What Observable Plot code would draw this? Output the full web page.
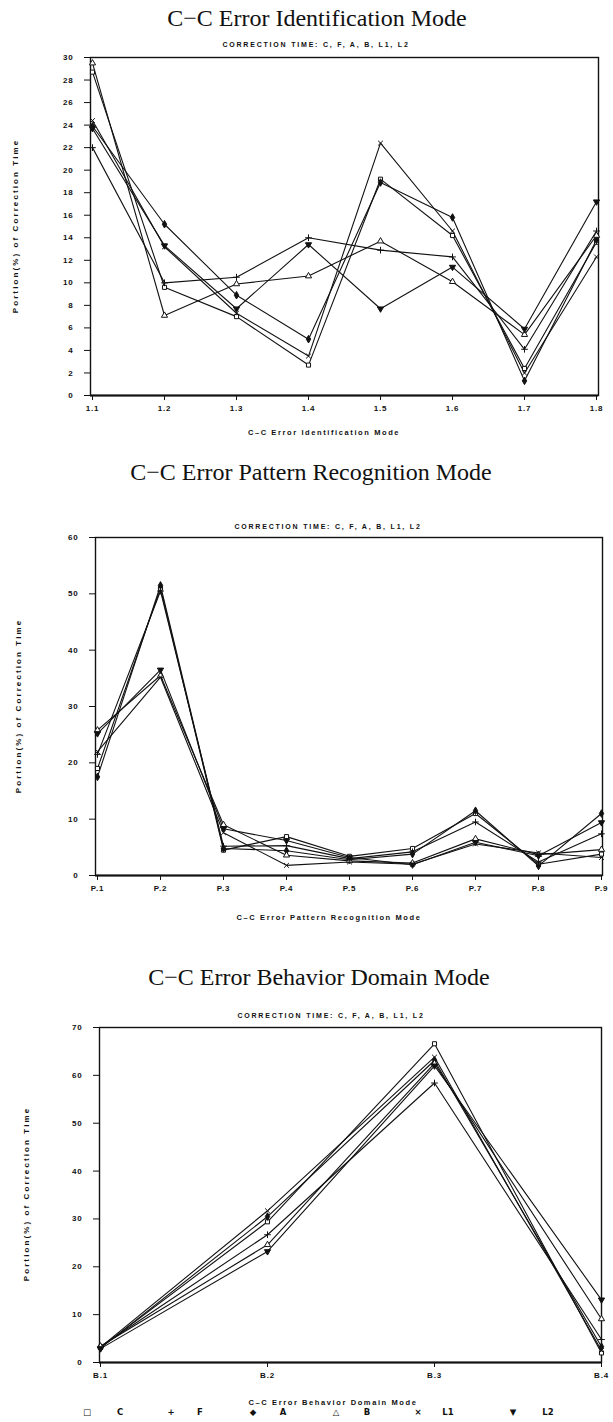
<!DOCTYPE html>
<html><head><meta charset="utf-8">
<script src="https://cdn.jsdelivr.net/npm/d3@7"></script>
<script src="https://cdn.jsdelivr.net/npm/@observablehq/plot@0.6"></script>
<style>
body{margin:0;background:#fff;}
#page{position:relative;width:613px;height:1422px;overflow:hidden;background:#fff;color:#111;}
.title{position:absolute;font-family:"Liberation Serif",serif;font-size:24px;line-height:24px;white-space:nowrap;transform:translate(-50%,-50%);}
.sub{position:absolute;font-family:"Liberation Sans",sans-serif;font-weight:bold;font-size:7px;letter-spacing:1.8px;white-space:nowrap;transform:translate(-50%,-50%);}
.axt{position:absolute;font-family:"Liberation Sans",sans-serif;font-weight:bold;font-size:7.5px;letter-spacing:1.6px;white-space:nowrap;transform:translate(-50%,-50%);}
.ylab{position:absolute;font-family:"Liberation Sans",sans-serif;font-weight:bold;font-size:8px;letter-spacing:2.1px;white-space:nowrap;transform:translate(-50%,-50%) rotate(-90deg);}
.plot{position:absolute;left:0;}
.leg{position:absolute;font-family:"DejaVu Sans",sans-serif;font-weight:bold;font-size:8.5px;white-space:nowrap;transform:translate(-50%,-50%);z-index:5;}
</style></head><body><div id="page"></div>
<script>
const seriesNames = ["C","F","A","B","L1","L2"];

// Chart 1: C-C Error Identification Mode
const idCats = ["1.1","1.2","1.3","1.4","1.5","1.6","1.7","1.8"];
const idC  = [28.7, 9.6, 7.0, 2.7, 19.2, 14.2, 2.4, 13.6];
const idF  = [22.0, 10.0, 10.5, 14.0, 12.9, 12.3, 4.1, 14.6];
const idA  = [23.9, 15.2, 8.9, 5.0, 18.9, 15.8, 1.3, 13.8];
const idB  = [29.5, 7.1, 9.9, 10.6, 13.7, 10.1, 5.4, 14.2];
const idL1 = [24.4, 13.2, 7.3, 3.5, 22.4, 14.6, 2.0, 12.3];
const idL2 = [23.7, 13.3, 7.7, 13.4, 7.7, 11.4, 5.9, 17.2];

// Chart 2: C-C Error Pattern Recognition Mode
const prCats = ["P.1","P.2","P.3","P.4","P.5","P.6","P.7","P.8","P.9"];
const prC  = [19.0, 51.0, 4.5, 6.9, 3.4, 4.8, 11.0, 2.0, 3.8];
const prF  = [21.5, 50.5, 5.2, 5.3, 3.0, 4.2, 9.5, 2.4, 7.4];
const prA  = [17.5, 51.5, 4.8, 4.4, 2.8, 3.8, 11.5, 1.7, 11.0];
const prB  = [25.8, 35.5, 9.0, 3.6, 2.6, 2.2, 6.5, 3.7, 4.6];
const prL1 = [22.0, 35.2, 7.6, 1.8, 2.4, 2.0, 5.6, 4.0, 3.2];
const prL2 = [25.2, 36.5, 8.3, 6.2, 3.2, 1.9, 5.9, 3.5, 9.4];

// Chart 3: C-C Error Behavior Domain Mode
const bdCats = ["B.1","B.2","B.3","B.4"];
const bdC  = [3.1, 29.4, 66.6, 2.0];
const bdF  = [3.3, 26.7, 58.4, 4.8];
const bdA  = [3.0, 30.5, 63.1, 3.3];
const bdB  = [3.4, 24.6, 62.5, 9.1];
const bdL1 = [3.2, 31.7, 63.8, 2.5];
const bdL2 = [2.9, 23.2, 62.0, 13.1];

const triDown = { draw(ctx, size) {
  const s = Math.sqrt(size * 4 / Math.sqrt(3)); const h = s * Math.sqrt(3) / 2;
  ctx.moveTo(0, h * 2 / 3); ctx.lineTo(-s / 2, -h / 3); ctx.lineTo(s / 2, -h / 3); ctx.closePath();
}};
const symbolOf = {C:"square", F:"plus", A:"diamond", B:"triangle", L1:"times", L2:triDown};
const fillOf = {C:"white", F:"none", A:"#111", B:"white", L1:"none", L2:"#111"};

const page = document.getElementById("page");
function addText(cls, text, x, y) {
  const d = document.createElement("div");
  d.className = cls; d.textContent = text;
  d.style.left = x + "px"; d.style.top = y + "px";
  page.appendChild(d);
}

function chart(cfg) {
  const rows = [];
  seriesNames.forEach((s, i) => cfg.values[i].forEach((v, j) => rows.push({series: s, cat: cfg.cats[j], value: v})));
  const marks = [
    Plot.frame({stroke: "#111", strokeWidth: 1.4}),
    Plot.ruleY([0], {stroke: "#111", strokeWidth: 2}),
    Plot.axisY({ticks: d3.range(0, cfg.yMax + 0.001, cfg.yStep), tickSize: 6, tickPadding: 11, label: null, tickFormat: d => String(d)}),
    Plot.axisX({tickSize: 5, tickPadding: 5, label: null})
  ];
  for (const s of seriesNames) {
    marks.push(Plot.line(rows.filter(r => r.series === s), {x: "cat", y: "value", stroke: "#111", strokeWidth: 1.1}));
  }
  for (const s of seriesNames) {
    marks.push(Plot.dot(rows.filter(r => r.series === s), {x: "cat", y: "value", symbol: symbolOf[s], r: 2.3, stroke: "#111", strokeWidth: 1, fill: fillOf[s]}));
  }
  const mt = 17, mb = 55;
  const svg = Plot.plot({
    width: 613, height: mt + cfg.plotH + mb,
    marginTop: mt, marginBottom: mb, marginLeft: cfg.ml, marginRight: cfg.mr,
    x: {type: "point", domain: cfg.cats, padding: 0},
    y: {domain: [0, cfg.yMax]},
    style: {fontFamily: "'Liberation Sans', sans-serif", fontSize: "8px", fontWeight: "bold", letterSpacing: "0.8px", color: "#111", background: "transparent"},
    marks
  });
  svg.classList.add("plot");
  svg.style.position = "absolute";
  svg.style.top = (cfg.top - mt) + "px";
  page.appendChild(svg);
}

chart({cats: idCats, values: [idC, idF, idA, idB, idL1, idL2], yMax: 30, yStep: 2, top: 57, plotH: 338, ml: 90, mr: 15});
chart({cats: prCats, values: [prC, prF, prA, prB, prL1, prL2], yMax: 60, yStep: 10, top: 537, plotH: 338, ml: 95, mr: 11});
chart({cats: bdCats, values: [bdC, bdF, bdA, bdB, bdL1, bdL2], yMax: 70, yStep: 10, top: 1027, plotH: 335, ml: 99, mr: 12});

addText("title", "C\u2212C Error Identification Mode", 317, 18);
addText("title", "C\u2212C Error Pattern Recognition Mode", 311, 472);
addText("title", "C\u2212C Error Behavior Domain Mode", 319, 977);
addText("sub", "CORRECTION TIME: C, F, A, B, L1, L2", 316, 44);
addText("sub", "CORRECTION TIME: C, F, A, B, L1, L2", 328, 526);
addText("sub", "CORRECTION TIME: C, F, A, B, L1, L2", 331, 1015);
addText("ylab", "Portion(%) of Correction Time", 15, 226);
addText("ylab", "Portion(%) of Correction Time", 18, 706);
addText("ylab", "Portion(%) of Correction Time", 26, 1194);
addText("axt", "C\u2013C Error Identification Mode", 324, 432);
addText("axt", "C\u2013C Error Pattern Recognition Mode", 329, 917);
addText("axt", "C\u2013C Error Behavior Domain Mode", 333, 1402);

const legendSymbols = ["\u25A1", "+", "\u25C6", "\u25B3", "\u00D7", "\u25BC"];
const legendSymX = [87, 171, 253, 336, 418, 513];
const legendLabX = [120, 200, 283, 367, 448, 548];
seriesNames.forEach((s, i) => {
  addText("leg", legendSymbols[i], legendSymX[i], 1412);
  addText("leg", s, legendLabX[i], 1412);
});
</script></body></html>
